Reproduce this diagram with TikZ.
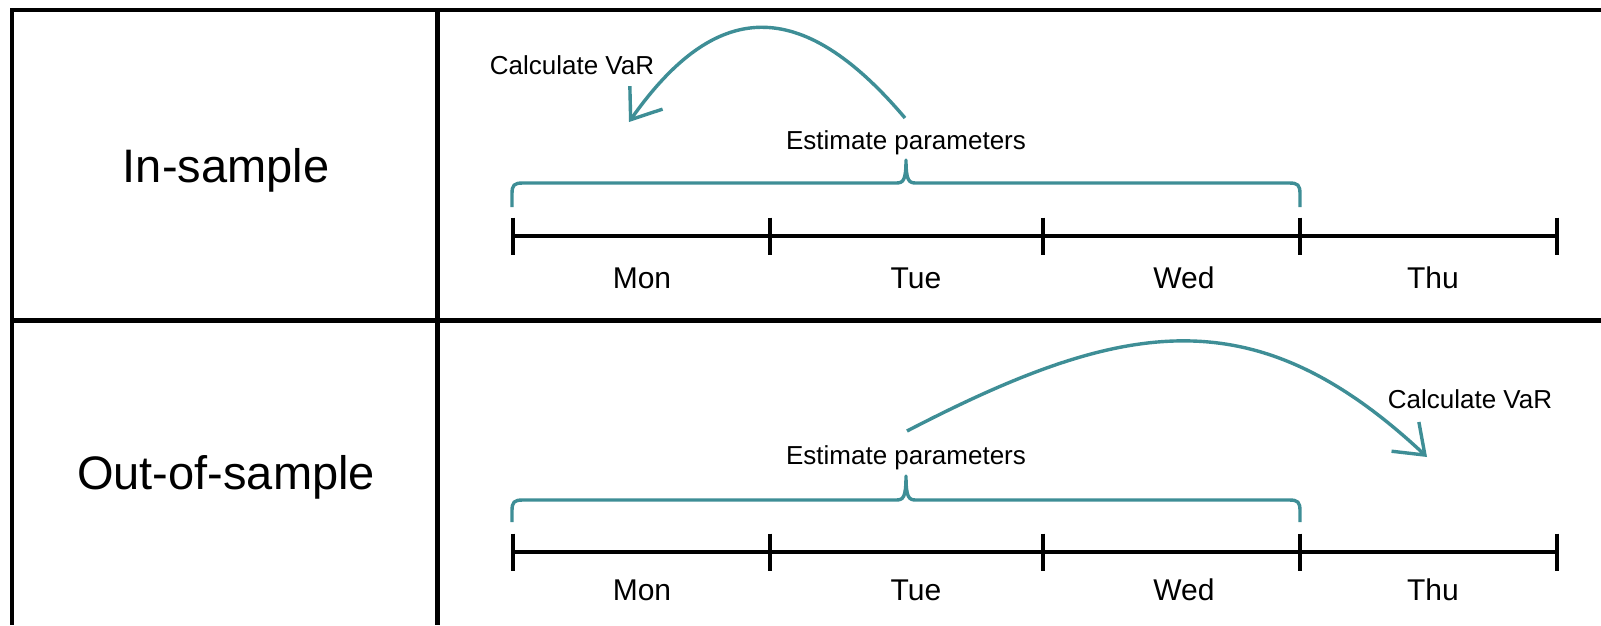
\documentclass[tikz,border=0pt]{standalone}
\usepackage{fontspec}
\setmainfont{Liberation Sans}
\usetikzlibrary{arrows.meta}
\definecolor{tealone}{RGB}{62,142,150}
\begin{document}
\begin{tikzpicture}[x=1pt,y=-1pt,
  frame/.style={line width=4.6pt,black},
  axisline/.style={line width=4.6pt,black},
  ticksty/.style={line width=4.4pt,black},
  bracesty/.style={line width=3.4pt,tealone,line join=round},
  arrowsty/.style={line width=3.4pt,tealone,-{Straight Barb[length=27pt,width=40pt,line join=miter]}},
  rowlab/.style={font=\fontsize{47}{50}\selectfont,inner sep=0pt,anchor=base},
  daylab/.style={font=\fontsize{30}{32}\selectfont,inner sep=0pt,anchor=base},
  smalllab/.style={font=\fontsize{26}{28}\selectfont,inner sep=0pt,anchor=base}]
\useasboundingbox (0,0) rectangle (1601,625);
\fill[white] (0,0) rectangle (1601,625);

% table
\draw[frame] (10,10) -- (1601,10);
\draw[frame] (12,8) -- (12,625);
\draw[frame] (437.5,8) -- (437.5,625);
\draw[frame] (12,320.5) -- (1601,320.5);

% row labels
\node[rowlab] (rin) at (226,182) {In-sample};
\node[rowlab] (rout) at (226,489) {Out-of-sample};

% ---------- top row ----------
\coordinate (t0) at (513,236);
\coordinate (t1) at (770,236);
\coordinate (t2) at (1043,236);
\coordinate (t3) at (1300,236);
\coordinate (t4) at (1557,236);
\draw[axisline] (t0) -- (t4);
\foreach \p in {t0,t1,t2,t3,t4}
  \draw[ticksty] ([yshift=18.5pt]\p) -- ([yshift=-18.5pt]\p);
\node[daylab] (mon1) at (642,288) {Mon};
\node[daylab] (tue1) at (916,288) {Tue};
\node[daylab] (wed1) at (1184,288) {Wed};
\node[daylab] (thu1) at (1433,288) {Thu};

\draw[bracesty] (512,207) -- (512,194) .. controls (512,185) and (514,183) .. (523,183)
  -- (896,183) .. controls (903,183) and (906,181) .. (906,160)
  .. controls (906,181) and (909,183) .. (916,183)
  -- (1289,183) .. controls (1298,183) and (1300,185) .. (1300,194) -- (1300,207);
\node[smalllab] (est1) at (906,149) {Estimate parameters};
\node[smalllab] (var1) at (572,74) {Calculate VaR};
\coordinate (s1) at (905,118);
\coordinate (e1) at (629,122);
\draw[arrowsty] (s1) .. controls (800,-6) and (715,0) .. (e1);

% ---------- bottom row ----------
\coordinate (b0) at (513,552);
\coordinate (b1) at (770,552);
\coordinate (b2) at (1043,552);
\coordinate (b3) at (1300,552);
\coordinate (b4) at (1557,552);
\draw[axisline] (b0) -- (b4);
\foreach \p in {b0,b1,b2,b3,b4}
  \draw[ticksty] ([yshift=18.5pt]\p) -- ([yshift=-18.5pt]\p);
\node[daylab] (mon2) at (642,600) {Mon};
\node[daylab] (tue2) at (916,600) {Tue};
\node[daylab] (wed2) at (1184,600) {Wed};
\node[daylab] (thu2) at (1433,600) {Thu};

\draw[bracesty] (512,522) -- (512,511) .. controls (512,502) and (514,500) .. (523,500)
  -- (896,500) .. controls (903,500) and (906,498) .. (906,476)
  .. controls (906,498) and (909,500) .. (916,500)
  -- (1289,500) .. controls (1298,500) and (1300,502) .. (1300,511) -- (1300,522);
\node[smalllab] (est2) at (906,464) {Estimate parameters};
\node[smalllab] (var2) at (1470,408) {Calculate VaR};
\coordinate (s2) at (907,431);
\coordinate (e2) at (1427,457);
\draw[arrowsty] (s2) .. controls (1125,318) and (1255,296) .. (e2);
\end{tikzpicture}
\end{document}
